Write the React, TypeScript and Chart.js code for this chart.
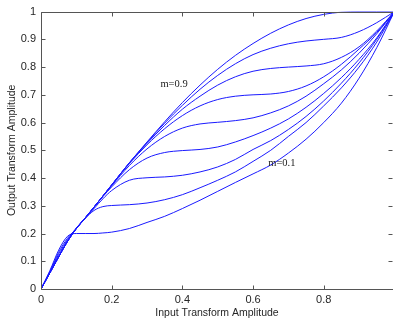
import { useEffect, useRef } from 'react';
import { Chart, registerables } from 'chart.js';

Chart.register(...registerables);

// Input transform amplitude (shared x positions)
const inputAmplitude = [0, 0.025, 0.05, 0.075, 0.1, 0.125, 0.15, 0.175, 0.2, 0.25, 0.3, 0.35, 0.4, 0.45, 0.5, 0.55, 0.6, 0.65, 0.7, 0.75, 0.8, 0.85, 0.9, 0.95, 1];

// Output transform amplitude for each m
const outM01 = [0, 0.066, 0.14, 0.19, 0.2, 0.2, 0.2, 0.202, 0.205, 0.218, 0.24, 0.262, 0.29, 0.32, 0.352, 0.384, 0.415, 0.447, 0.49, 0.54, 0.6, 0.67, 0.76, 0.87, 1];
const outM02 = [0, 0.062, 0.132, 0.183, 0.218, 0.254, 0.283, 0.297, 0.301, 0.304, 0.31, 0.322, 0.34, 0.365, 0.392, 0.422, 0.46, 0.5, 0.55, 0.6, 0.66, 0.725, 0.8, 0.89, 1];
const outM03 = [0, 0.06, 0.125, 0.178, 0.22, 0.256, 0.29, 0.325, 0.355, 0.392, 0.401, 0.404, 0.41, 0.422, 0.44, 0.467, 0.503, 0.535, 0.575, 0.622, 0.678, 0.742, 0.815, 0.9, 1];
const outM04 = [0, 0.058, 0.116, 0.172, 0.218, 0.256, 0.295, 0.333, 0.368, 0.43, 0.472, 0.492, 0.499, 0.503, 0.512, 0.53, 0.553, 0.58, 0.613, 0.655, 0.705, 0.762, 0.828, 0.905, 1];
const outM05 = [0, 0.058, 0.116, 0.172, 0.218, 0.256, 0.295, 0.334, 0.372, 0.445, 0.505, 0.55, 0.58, 0.595, 0.601, 0.607, 0.617, 0.635, 0.66, 0.695, 0.74, 0.79, 0.85, 0.92, 1];
const outM06 = [0, 0.058, 0.116, 0.172, 0.218, 0.256, 0.295, 0.335, 0.375, 0.452, 0.52, 0.578, 0.625, 0.66, 0.683, 0.695, 0.7, 0.703, 0.712, 0.732, 0.765, 0.81, 0.865, 0.925, 1];
const outM07 = [0, 0.058, 0.116, 0.172, 0.218, 0.256, 0.295, 0.335, 0.375, 0.455, 0.525, 0.59, 0.648, 0.695, 0.735, 0.765, 0.785, 0.795, 0.8, 0.804, 0.812, 0.835, 0.873, 0.93, 1];
const outM08 = [0, 0.058, 0.116, 0.172, 0.218, 0.256, 0.295, 0.335, 0.375, 0.455, 0.528, 0.598, 0.662, 0.72, 0.77, 0.812, 0.845, 0.868, 0.884, 0.894, 0.9, 0.907, 0.928, 0.96, 1];
const outM09 = [0, 0.058, 0.116, 0.172, 0.218, 0.256, 0.295, 0.335, 0.375, 0.455, 0.53, 0.603, 0.672, 0.735, 0.792, 0.842, 0.885, 0.922, 0.952, 0.975, 0.99, 0.998, 1, 1, 1];

const seriesNames = ['m=0.1', 'm=0.2', 'm=0.3', 'm=0.4', 'm=0.5', 'm=0.6', 'm=0.7', 'm=0.8', 'm=0.9'];

// In-plot annotation texts and their data positions
const noteTexts = ['m=0.9', 'm=0.1'];
const noteX = [0.338, 0.643];
const noteY = [0.737, 0.452];

const xTitle = 'Input Transform Amplitude';
const yTitle = 'Output Transform Amplitude';

const fmt = (v: number | string) => String(Number(Number(v).toFixed(3)));

const framePlugin = {
  id: 'matlabFrame',
  afterDraw(chart: any) {
    const { ctx, chartArea } = chart;
    const { left, right, top, bottom } = chartArea;
    const xs = chart.scales.x;
    const ys = chart.scales.y;
    ctx.save();
    ctx.strokeStyle = '#555';
    ctx.lineWidth = 1;
    const L = Math.round(left) + 0.5;
    const T = Math.round(top) + 0.5;
    const B = Math.round(bottom) + 0.5;
    const R = Math.round(right) - 0.5;
    ctx.beginPath();
    ctx.moveTo(L, T); ctx.lineTo(right, T);
    ctx.moveTo(L, B); ctx.lineTo(right, B);
    ctx.moveTo(L, T); ctx.lineTo(L, B);
    ctx.stroke();
    const tl = 4;
    ctx.beginPath();
    xs.ticks.forEach((t: any) => {
      const px = Math.round(xs.getPixelForValue(t.value)) + 0.5;
      ctx.moveTo(px, B); ctx.lineTo(px, B - tl);
      ctx.moveTo(px, T); ctx.lineTo(px, T + tl);
    });
    ys.ticks.forEach((t: any) => {
      const py = Math.round(ys.getPixelForValue(t.value)) + 0.5;
      ctx.moveTo(L, py); ctx.lineTo(L + tl, py);
      ctx.moveTo(R, py); ctx.lineTo(R - tl, py);
    });
    ctx.stroke();
    // annotations
    ctx.fillStyle = '#222';
    ctx.font = '10.5px "Liberation Serif", "Times New Roman", serif';
    ctx.textAlign = 'left';
    ctx.textBaseline = 'middle';
    noteTexts.forEach((txt, i) => {
      ctx.fillText(txt, xs.getPixelForValue(noteX[i]), ys.getPixelForValue(noteY[i]));
    });
    ctx.restore();
  },
};

export default function App() {
  const ref = useRef<HTMLCanvasElement>(null);
  useEffect(() => {
    const canvas = ref.current;
    if (!canvas) return;
    const series = [outM01, outM02, outM03, outM04, outM05, outM06, outM07, outM08, outM09];
    const tickFont = { family: '"Liberation Sans", Arial, sans-serif', size: 11 };
    const titleFont = { family: '"Liberation Sans", Arial, sans-serif', size: 10.5 };
    const chart = new Chart(canvas, {
      type: 'line',
      data: {
        datasets: series.map((ys, i) => ({
          label: seriesNames[i],
          data: inputAmplitude.map((x, j) => ({ x, y: ys[j] })),
          borderColor: '#1a1aff',
          borderWidth: 1,
          pointRadius: 0,
          fill: false,
          cubicInterpolationMode: 'monotone' as const,
        })),
      },
      options: {
        responsive: false,
        animation: false,
        devicePixelRatio: 1,
        layout: { padding: { top: 10, right: 0, left: 0, bottom: 0 } },
        plugins: { legend: { display: false }, tooltip: { enabled: false }, title: { display: false } },
        scales: {
          x: {
            type: 'linear',
            min: 0,
            max: 0.996,
            grid: { display: false, drawTicks: false },
            border: { display: false },
            ticks: {
              stepSize: 0.2,
              includeBounds: false,
              maxRotation: 0,
              padding: 4,
              color: '#262626',
              font: tickFont,
              callback: (v: any) => fmt(v),
            },
            title: { display: true, text: xTitle, color: '#262626', font: titleFont, padding: { top: 0, bottom: 5 } },
            afterFit: (s: any) => { s.height = 35; },
          },
          y: {
            type: 'linear',
            min: 0,
            max: 1,
            grid: { display: false, drawTicks: false },
            border: { display: false },
            ticks: {
              stepSize: 0.1,
              padding: 5,
              color: '#262626',
              font: tickFont,
              callback: (v: any) => fmt(v),
            },
            title: { display: true, text: yTitle, color: '#262626', font: titleFont, padding: { top: 6, bottom: 0 } },
            afterFit: (s: any) => { s.width = 41; },
          },
        },
      },
      plugins: [framePlugin],
    } as any);
    return () => chart.destroy();
  }, []);
  return (
    <div style={{ position: 'fixed', left: 0, top: 0, width: 393, height: 324, background: '#fff', overflow: 'hidden' }}>
      <canvas ref={ref} width={393} height={324} style={{ display: 'block' }} />
    </div>
  );
}
